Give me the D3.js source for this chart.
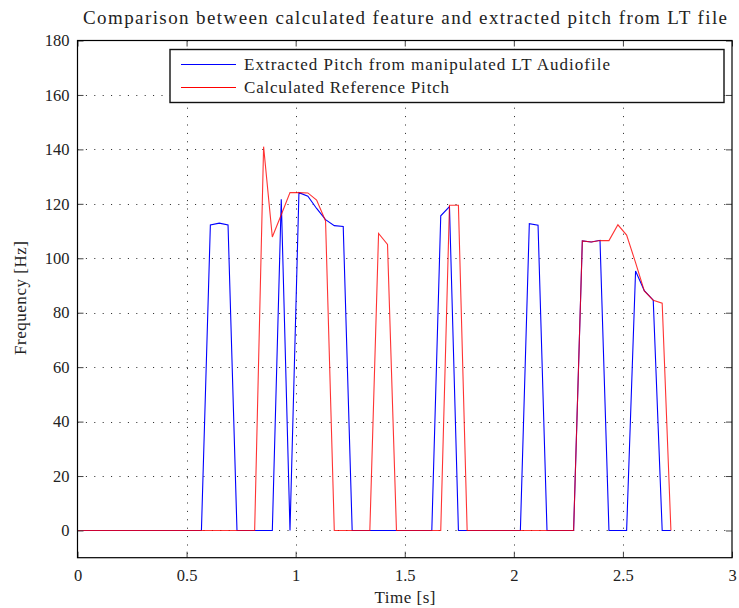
<!DOCTYPE html>
<html>

<head>
    <title>Pitch comparison</title>
    <script src="https://cdn.jsdelivr.net/npm/d3@7"></script>
    <style>
        body { margin: 0; background: white; }
        text { font-family: "Liberation Serif", "DejaVu Serif", serif; fill: #222; }
    </style>
</head>

<body>
    <svg width="739" height="608" id="mainsvg"></svg>
    <script>
        // extracted pitch (blue) - breakpoints in seconds / Hz
        const extractedTime = [0, 0.568, 0.609, 0.650, 0.690, 0.731, 0.893, 0.934, 0.974, 1.015, 1.056, 1.096, 1.137, 1.177, 1.218, 1.259,
            1.624, 1.665, 1.705, 1.746, 2.030, 2.071, 2.111, 2.152, 2.274, 2.314, 2.355, 2.395, 2.436, 2.517, 2.558, 2.598, 2.639, 2.680, 2.720];
        const extractedPitch = [0, 0, 112.2, 112.9, 112.2, 0, 0, 121.7, 0, 124.1, 122.8, 118.3, 114.2, 112.0, 111.7, 0,
            0, 115.6, 119.0, 0, 0, 112.7, 112.1, 0, 0, 106.4, 106.0, 106.6, 0, 0, 95.3, 88.1, 84.6, 0, 0];

        // calculated reference pitch (red)
        const referenceTime = [0, 0.812, 0.853, 0.893, 0.934, 0.974, 1.015, 1.056, 1.096, 1.137, 1.177, 1.340, 1.380, 1.421, 1.462,
            1.665, 1.705, 1.746, 1.786, 2.274, 2.314, 2.355, 2.395, 2.436, 2.477, 2.517, 2.558, 2.598, 2.639, 2.680, 2.720];
        const referencePitch = [0, 0, 141.0, 107.8, 116.0, 124.1, 124.1, 124.0, 121.4, 113.7, 0, 0, 109.1, 105.1, 0,
            0, 119.5, 119.5, 0, 0, 106.4, 106.0, 106.5, 106.5, 112.3, 108.5, 98.4, 88.0, 84.6, 83.5, 0];

        const xTicks = [0, 0.5, 1, 1.5, 2, 2.5, 3];
        const yTicks = [0, 20, 40, 60, 80, 100, 120, 140, 160, 180];
        const legendLabels = ['Extracted Pitch from manipulated LT Audiofile', 'Calculated Reference Pitch'];
        const legendColors = ['#0000ff', '#ff0000'];

        const svg = d3.select('svg');
        const mLeft = 77.5, mRight = 732, mTop = 40.5, mBottom = 557.7;
        const TICK = 6;

        const x = d3.scaleLinear().domain([0, 3]).range([mLeft, mRight]);
        const y = d3.scaleLinear().domain([-10, 180]).range([mBottom, mTop]);

        // dotted grid
        const grid = svg.append('g').attr('stroke', '#222').attr('stroke-width', 1)
            .attr('stroke-dasharray', '1,7.4');
        grid.selectAll('.vgrid').data(xTicks.slice(1, -1)).join('line').attr('class', 'vgrid')
            .attr('x1', d => Math.round(x(d)) + 0.5).attr('x2', d => Math.round(x(d)) + 0.5)
            .attr('y1', mTop).attr('y2', mBottom);
        grid.selectAll('.hgrid').data(yTicks.slice(0, -1)).join('line').attr('class', 'hgrid')
            .attr('y1', d => Math.round(y(d)) + 0.5).attr('y2', d => Math.round(y(d)) + 0.5)
            .attr('x1', mLeft).attr('x2', mRight);

        // series
        const line = d3.line().x(d => x(d[0])).y(d => y(d[1]));
        const series = [
            d3.zip(extractedTime, extractedPitch),
            d3.zip(referenceTime, referencePitch)
        ];
        svg.selectAll('.series').data(series).join('path').attr('class', 'series')
            .attr('d', line).attr('fill', 'none')
            .attr('stroke', (d, i) => legendColors[i]).attr('stroke-width', 1.1)
            .attr('stroke-opacity', (d, i) => i === 1 ? 0.8 : 1);

        // axes with inner ticks on all sides
        const axisStyle = g => {
            g.select('.domain').remove();
            g.selectAll('.tick line').attr('stroke', '#444');
            g.selectAll('.tick text').attr('font-size', 16.5).attr('fill', '#222')
                .attr('font-family', '"Liberation Serif", serif');
        };
        svg.append('g').attr('transform', `translate(0,${mBottom})`)
            .call(d3.axisBottom(x).tickValues(xTicks).tickFormat(d3.format('')).tickSizeInner(-TICK).tickPadding(12))
            .call(axisStyle);
        svg.append('g').attr('transform', `translate(0,${mTop})`)
            .call(d3.axisTop(x).tickValues(xTicks).tickFormat('').tickSizeInner(-TICK))
            .call(axisStyle);
        svg.append('g').attr('transform', `translate(${mLeft},0)`)
            .call(d3.axisLeft(y).tickValues(yTicks).tickSizeInner(-TICK).tickPadding(8))
            .call(axisStyle);
        svg.append('g').attr('transform', `translate(${mRight},0)`)
            .call(d3.axisRight(y).tickValues(yTicks).tickFormat('').tickSizeInner(-TICK))
            .call(axisStyle);

        // frame
        svg.append('rect').attr('x', mLeft).attr('y', mTop)
            .attr('width', mRight - mLeft).attr('height', mBottom - mTop)
            .attr('fill', 'none').attr('stroke', '#000').attr('stroke-width', 1.2);

        // legend
        const legendWidths = [366, 205];
        const legend = svg.append('g');
        legend.append('rect').attr('x', 170).attr('y', 49.5).attr('width', 554).attr('height', 53)
            .attr('fill', 'white').attr('stroke', '#111').attr('stroke-width', 1.4);
        const entry = legend.selectAll('.entry').data(legendLabels).join('g').attr('class', 'entry')
            .attr('transform', (d, i) => `translate(0,${64.5 + i * 23})`);
        entry.append('line').attr('x1', 181).attr('x2', 236)
            .attr('stroke', (d, i) => legendColors[i]).attr('stroke-width', 1.1);
        entry.append('text').attr('x', 244).attr('dy', '0.32em')
            .attr('font-size', 17).attr('textLength', (d, i) => legendWidths[i])
            .text(d => d);

        // labels
        svg.append('text').attr('x', 405).attr('y', 24).attr('text-anchor', 'middle')
            .attr('font-size', 19).attr('textLength', 644)
            .text('Comparison between calculated feature and extracted pitch from LT file');
        svg.append('text').attr('x', 405).attr('y', 603).attr('text-anchor', 'middle')
            .attr('font-size', 17).attr('textLength', 61).text('Time [s]');
        svg.append('text').attr('transform', 'translate(26,298) rotate(-90)').attr('text-anchor', 'middle')
            .attr('font-size', 17).attr('textLength', 114).text('Frequency [Hz]');
    </script>
</body>

</html>
